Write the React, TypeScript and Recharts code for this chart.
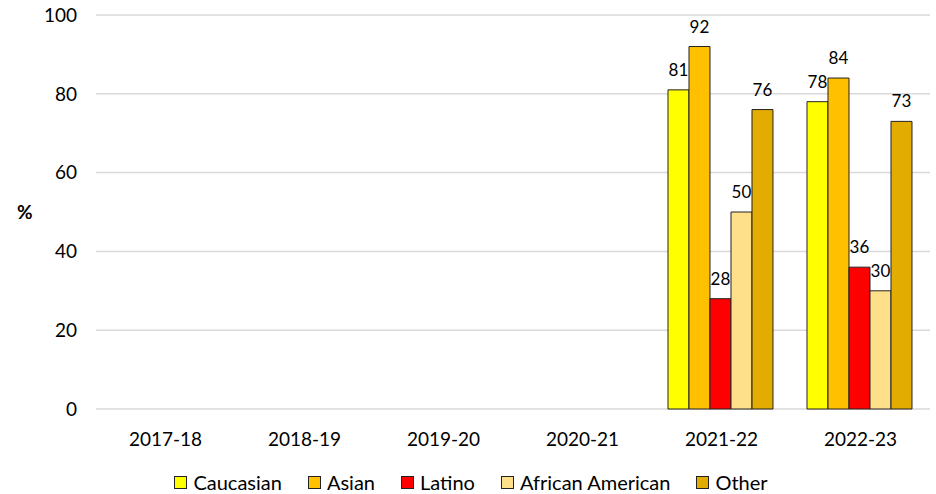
import { BarChart, Bar, XAxis, YAxis, CartesianGrid, Legend, LabelList } from 'recharts';

// school years on the x axis
const years = ['2017-18', '2018-19', '2019-20', '2020-21', '2021-22', '2022-23'];

// percentage per group, only the last two years were reported
const caucasian = [null, null, null, null, 81, 78];
const asian = [null, null, null, null, 92, 84];
const latino = [null, null, null, null, 28, 36];
const africanAmerican = [null, null, null, null, 50, 30];
const other = [null, null, null, null, 76, 73];

const yTicks = [0, 20, 40, 60, 80, 100];

const series = [
  { key: 'caucasian', name: 'Caucasian', color: '#FFFF00' },
  { key: 'asian', name: 'Asian', color: '#FFC000' },
  { key: 'latino', name: 'Latino', color: '#FF0000' },
  { key: 'africanAmerican', name: 'African American', color: '#FFE08A' },
  { key: 'other', name: 'Other', color: '#E2AC00' },
];

const data = years.map((year, i) => ({
  year,
  caucasian: caucasian[i],
  asian: asian[i],
  latino: latino[i],
  africanAmerican: africanAmerican[i],
  other: other[i],
}));

const FONT = 'Lato, sans-serif';

const renderLegend = () => (
  <div
    style={{
      display: 'flex',
      justifyContent: 'center',
      alignItems: 'center',
      gap: 26,
      fontFamily: FONT,
      fontSize: 20,
      lineHeight: '24px',
      height: 24,
      color: '#000',
      paddingLeft: 6,
    }}
  >
    {series.map((s) => (
      <span key={s.key} style={{ display: 'flex', alignItems: 'center', whiteSpace: 'nowrap' }}>
        <span
          style={{
            width: 11,
            height: 11,
            background: s.color,
            border: '1px solid #222',
            marginRight: 6,
            display: 'inline-block',
          }}
        />
        {s.name}
      </span>
    ))}
  </div>
);

const renderValue = (props: any) => {
  const { x, y, width, value } = props;
  if (value == null) return null;
  return (
    <text
      x={x + width / 2}
      y={y - 14}
      textAnchor="middle"
      fontFamily={FONT}
      fontSize={17}
      fill="#000"
    >
      {value}
    </text>
  );
};

const App = () => {
  return (
    <div style={{ position: 'absolute', left: 0, top: 0, background: '#fff' }}>
      <BarChart
        width={936}
        height={494}
        data={data}
        margin={{ top: 15, right: 6, left: 0, bottom: 0 }}
        barGap={0}
        barCategoryGap="11.5%"
      >
        <CartesianGrid vertical={false} stroke="#d9d9d9" strokeWidth={1.5} />
        <XAxis
          dataKey="year"
          height={61}
          axisLine={false}
          tickLine={false}
          tickSize={0}
          tickMargin={24}
          tick={{ fontFamily: FONT, fontSize: 19, fill: '#000' }}
        />
        <YAxis
          width={96}
          domain={[0, 100]}
          ticks={yTicks}
          axisLine={false}
          tickLine={false}
          tickSize={0}
          tickMargin={19}
          tick={{ fontFamily: FONT, fontSize: 19, fill: '#000' }}
          label={{
            value: '%',
            position: 'insideLeft',
            offset: 17,
            style: { fontFamily: FONT, fontSize: 19, fontWeight: 'bold', fill: '#000' },
          }}
        />
        <Legend
          content={renderLegend}
          verticalAlign="bottom"
          wrapperStyle={{ left: 0, width: 936, bottom: 0, height: 24 }}
        />
        {series.map((s) => (
          <Bar
            key={s.key}
            dataKey={s.key}
            name={s.name}
            fill={s.color}
            stroke="#222"
            strokeWidth={1}
            isAnimationActive={false}
          >
            <LabelList dataKey={s.key} content={renderValue} />
          </Bar>
        ))}
      </BarChart>
    </div>
  );
};

export default App;
